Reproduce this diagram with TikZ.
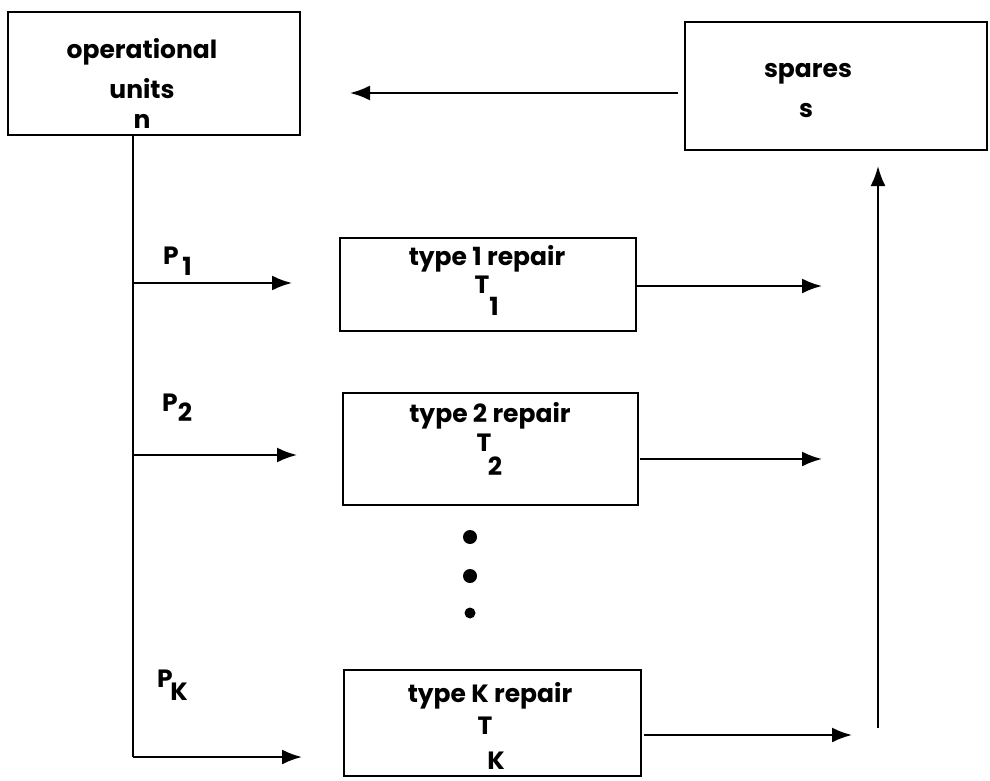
\documentclass[tikz,border=0pt]{standalone}
\usepackage{fontspec}
\setmainfont{Poppins}
\usetikzlibrary{arrows.meta}
\begin{document}
\begin{tikzpicture}[x=1pt,y=-1pt,
  box/.style={draw,line width=2.4pt,inner sep=0pt},
  lbl/.style={font=\bfseries\fontsize{25}{28}\selectfont,inner sep=0pt},
  arr/.style={line width=2.2pt,-{Latex[length=20pt,width=15pt]}},
  ln/.style={line width=1.8pt}]
\useasboundingbox (0,0) rectangle (990,781);
% boxes
\node[box,minimum width=292pt,minimum height=123pt] (op) at (154,73.5) {};
\node[box,minimum width=302pt,minimum height=128pt] (sp) at (836,86) {};
\node[box,minimum width=296pt,minimum height=93pt] (r1) at (488,284.5) {};
\node[box,minimum width=295pt,minimum height=112pt] (r2) at (490.5,449) {};
\node[box,minimum width=297pt,minimum height=106pt] (rk) at (492.5,723) {};
% texts
\node[lbl] (t-op1) at (142,52) {operational};
\node[lbl] (t-op2) at (142,89) {units};
\node[lbl] (t-op3) at (142,121) {n};
\node[lbl] (t-sp1) at (808,74) {spares};
\node[lbl] (t-sp2) at (806,111) {s};
\node[lbl] (t-r1) at (487,259) {type 1 repair};
\node[lbl] (t-T1) at (482,285) {T};
\node[lbl] (t-T1s) at (494,306) {1};
\node[lbl] (t-r2) at (490,416) {type 2 repair};
\node[lbl] (t-T2) at (484,443) {T};
\node[lbl] (t-T2s) at (495,466) {2};
\node[lbl] (t-rk) at (490,696) {type K repair};
\node[lbl] (t-Tk) at (485,726) {T};
\node[lbl] (t-Tks) at (496,761) {K};
\node[lbl] (t-p1) at (171,256) {P};
\node[lbl] (t-p1s) at (187,266) {1};
\node[lbl] (t-p2) at (170,403) {P};
\node[lbl] (t-p2s) at (185,412) {2};
\node[lbl] (t-pk) at (165,679) {P};
\node[lbl] (t-pks) at (179,692) {K};
% dots
\fill (470,537) circle (7pt);
\fill (470,576) circle (7pt);
\fill (470,613) circle (5.5pt);
% coordinates
\coordinate (top) at (133,135);
\coordinate (b1) at (133,283);
\coordinate (b2) at (133,455);
\coordinate (bk) at (133,757);
\coordinate (e1) at (292,283);
\coordinate (e2) at (297,455);
\coordinate (ek) at (302,757);
\coordinate (o1s) at (637,286);
\coordinate (o1e) at (822,286);
\coordinate (o2s) at (640,459);
\coordinate (o2e) at (822,459);
\coordinate (oks) at (644,735);
\coordinate (oke) at (852,735);
\coordinate (ups) at (878,728);
\coordinate (upe) at (878,166);
\coordinate (sps) at (678,93);
\coordinate (spe) at (350,93);
% connectors
\draw[ln] (top) -- (bk);
\draw[arr] (b1) -- (e1);
\draw[arr] (b2) -- (e2);
\draw[arr] (bk) -- (ek);
\draw[arr] (o1s) -- (o1e);
\draw[arr] (o2s) -- (o2e);
\draw[arr] (oks) -- (oke);
\draw[arr] (ups) -- (upe);
\draw[arr] (sps) -- (spe);
\end{tikzpicture}
\end{document}
